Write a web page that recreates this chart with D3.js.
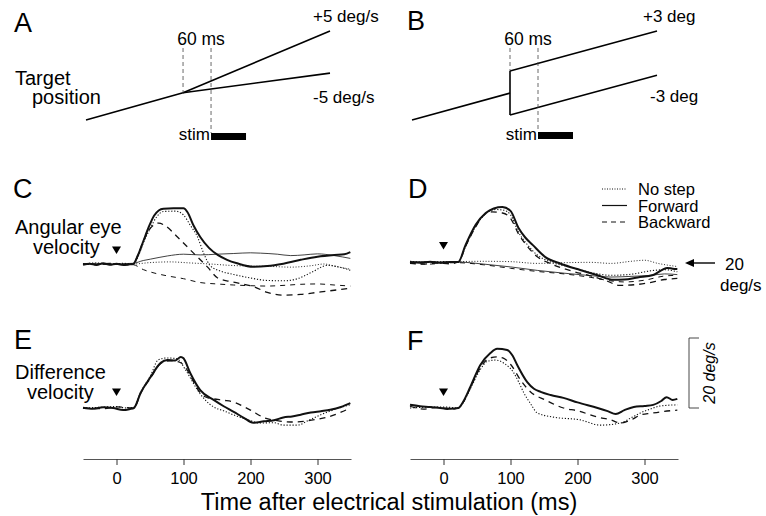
<!DOCTYPE html>
<html>
<head>
<meta charset="utf-8">
<script src="https://cdn.jsdelivr.net/npm/d3@7"></script>
<style>
  body { margin: 0; background: #fff; }
  svg { font-family: "Liberation Sans", Arial, Helvetica, sans-serif; }
</style>
</head>
<body>
<div id="chart"></div>
<script>
// ---- schematic target positions (A, B): [time ms, position deg] ----
var aBase = [[-268, 0], [-60, 3.9]];
var aPlus = [[-60, 3.9], [255, 12.7]];
var aMinus = [[-60, 3.9], [255, 6.7]];
var bBase = [[-270, 0], [-60, 3.85]];
var bStep = [[-60, 7.0], [-60, 0.7]];
var bPlus = [[-60, 7.0], [255, 12.7]];
var bMinus = [[-60, 0.7], [255, 6.4]];
var stepTime = -60;
var stimWindow = [0, 75];

// ---- C: angular eye velocity, velocity step (deg/s) ----
var cForwardStim = [[-50,19.8],[-40,20.1],[-30,19.7],[-20,20.2],[-10,19.8],[0,20.1],[10,19.7],[20,19.9],[25,20],[32,22.5],[40,26.5],[48,30.5],[56,33.8],[63,35.3],[70,35.8],[85,35.9],[100,35.9],[106,34.8],[115,31],[125,27.7],[138,24.6],[151,22.6],[165,21.2],[180,20.2],[204,19.2],[225,19.4],[249,20.1],[275,21.2],[300,22.1],[325,22.6],[340,22.8],[349,23.4]];
var cNoStepStim = [[-50,20],[-30,20.3],[-10,19.9],[10,20.2],[25,20],[32,22],[40,26],[50,30],[60,33.5],[70,35],[88,35.1],[100,34],[110,31.1],[121,27.7],[130,23.1],[140,19.5],[155,18],[175,17],[200,16],[225,15.3],[250,15.2],[270,15.8],[290,17.5],[315,19.6],[335,19],[349,18.2]];
var cBackwardStim = [[-50,20],[-30,19.8],[-10,20.2],[10,19.8],[25,20],[32,22.5],[40,26.5],[51,30.3],[63,31.7],[73,30.9],[91,27.7],[115,23.1],[136,19.1],[151,16],[170,15],[185,14.4],[205,13.5],[225,11.9],[249,11.1],[275,11.3],[300,11.9],[325,12.5],[349,13.1]];
var cForwardCtrl = [[-50,19.9],[-30,20.2],[-10,19.8],[10,20.1],[25,20.2],[40,21],[51,21.4],[76,22.3],[100,22.8],[125,22.6],[150,22.8],[175,23],[200,23.2],[215,23.1],[240,22.8],[260,22.4],[280,22.6],[300,22.9],[325,22.4],[349,21.6]];
var cNoStepCtrl = [[-50,20],[-20,19.9],[0,20.1],[25,20],[50,20.4],[80,20.6],[110,20.3],[140,20],[170,19.6],[200,19.4],[230,19.3],[260,19.1],[290,19.5],[310,20],[325,19.4],[349,18.5]];
var cBackwardCtrl = [[-50,20.1],[-20,19.9],[0,20],[25,19.8],[40,18.4],[51,17.7],[76,16.6],[100,15.8],[125,14.7],[150,14.3],[175,14],[200,13.8],[225,13.7],[250,13.9],[275,14.2],[300,14.3],[325,14],[349,13.7]];

// ---- D: angular eye velocity, position step (deg/s) ----
var dForwardStim = [[-50,20],[-35,19.8],[-20,20.1],[-5,19.8],[10,20],[22,20],[33,24.9],[48,30.6],[63,34],[75,35.3],[88,35.7],[100,34.6],[112,29.7],[122,27],[133,24.9],[152,21.4],[175,19.5],[204,17.7],[230,16.2],[254,14.9],[270,15],[290,15.6],[313,16.3],[334,18.3],[342,18.1],[349,18]];
var dNoStepStim = [[-50,20.2],[-25,19.9],[0,20.1],[22,20],[33,24.5],[48,30.2],[63,33.8],[78,35],[90,34.8],[100,33.5],[112,28.5],[125,25],[140,22],[160,20],[190,18.5],[220,17],[250,16.2],[280,16.5],[310,17.5],[330,17.8],[349,17.2]];
var dBackwardStim = [[-50,19.6],[-30,19.4],[-10,19.7],[10,19.5],[22,20],[33,24.5],[48,30],[60,33.4],[72,34.3],[88,34],[100,32.5],[112,28],[125,24.5],[140,21.5],[160,19.5],[190,17.5],[220,16],[245,14.5],[262,13.3],[285,13.5],[305,14],[330,15],[349,15.3]];
var dForwardCtrl = [[-50,20],[-20,20.1],[0,19.9],[20,20],[60,19.4],[100,18.6],[140,17.6],[180,16.8],[220,16.1],[250,15.7],[280,15.9],[310,16.2],[330,16.6],[349,16.4]];
var dNoStepCtrl = [[-50,20.1],[0,19.9],[20,20.1],[60,20.2],[100,20.1],[140,19.6],[180,19.8],[220,19.9],[250,19.6],[280,20.2],[300,20.5],[320,19.6],[349,18.7]];
var dBackwardCtrl = [[-50,19.6],[-20,19.4],[0,19.7],[20,19.8],[60,19.2],[100,18.2],[140,17.3],[180,16.6],[220,15.6],[250,14.6],[270,14.3],[300,14.8],[330,16],[349,16.2]];

// ---- E, F: difference velocity (deg/s) ----
var eForward = [[-50,0.1],[-35,-0.2],[-20,0.2],[-5,0],[10,-0.6],[20,-0.3],[26,0],[36,4.3],[51,8.9],[66,12.9],[76,13.7],[88,13.6],[96,14.6],[100,14.2],[110,10],[125,5.1],[145,2.3],[160,0.5],[175,-1.1],[190,-2.8],[204,-4.2],[220,-3.8],[235,-3.5],[249,-2.7],[262,-2.4],[275,-1.9],[290,-1.3],[305,-0.9],[319,-0.5],[335,0.3],[349,1.4]];
var eNoStep = [[-50,0],[-25,0.2],[0,0.4],[15,0],[26,0.2],[36,4.5],[51,9.3],[62,13.7],[75,14.3],[90,14.1],[103,10.9],[112,8],[121,5.1],[133,2.2],[145,0.3],[160,-0.8],[175,-2],[195,-3.3],[215,-4.3],[235,-4.2],[249,-4.9],[270,-4.9],[287,-3.5],[304,-2],[320,-0.8],[335,0.2],[349,0.9]];
var eBackward = [[-50,0],[-20,-0.2],[0,0.3],[26,0],[36,4.2],[51,8.6],[66,12.7],[80,13.5],[95,13],[105,11],[115,7.5],[125,4.3],[135,3],[145,2.6],[160,2.2],[175,1.7],[190,0.4],[200,-0.6],[222,-2.9],[240,-3.6],[260,-4],[280,-3.8],[300,-3.2],[315,-2.6],[335,-1.2],[349,0]];
var fForward = [[-50,0.9],[-35,0.5],[-20,0.3],[-5,0],[10,-0.2],[22,0],[30,2],[40,6],[55,12.3],[70,15.7],[80,16.9],[95,16.6],[103,15],[110,12.3],[125,7.4],[135,5.5],[145,4.6],[160,3.7],[179,2.9],[200,1.6],[230,0],[245,-0.9],[257,-1.7],[270,-0.6],[284,0.3],[300,0.6],[313,0.9],[325,2],[333,3.1],[342,2.3],[349,2.6]];
var fNoStep = [[-50,0],[-30,0.2],[0,0.3],[22,0],[30,1.8],[40,5.5],[55,11],[65,13.3],[78,13.7],[90,12.8],[105,10],[112,7.5],[120,4.3],[130,1.2],[140,-1.4],[164,-2.6],[204,-3.4],[234,-4.9],[264,-4.3],[280,-2.8],[294,-1.4],[310,-0.2],[324,0.6],[349,0.9]];
var fBackward = [[-50,0.5],[-30,-0.3],[-10,0.2],[10,-0.4],[22,0],[30,1.8],[40,5.7],[55,11.5],[68,14.2],[80,14.6],[90,14.2],[100,12.5],[115,8],[130,4.6],[152,2.3],[179,0],[200,-0.8],[230,-2.6],[250,-3.4],[264,-4.3],[280,-3.4],[294,-2],[310,-1.5],[324,-1.1],[349,-0.6]];

var tickValues = [0, 100, 200, 300];
var legendNames = ["No step", "Forward", "Backward"];
var scaleBarValue = 20;

// ---- layout ----
var width = 766, height = 516;
var svg = d3.select("#chart").append("svg")
  .attr("width", width).attr("height", height);

var styles = {
  stimForward: { w: 2, dash: null },
  stimNoStep: { w: 1.1, dash: "1.2,1.8" },
  stimBackward: { w: 1.3, dash: "6,5" },
  ctrlForward: { w: 0.8, dash: null },
  ctrlNoStep: { w: 0.9, dash: "1,1.8" },
  ctrlBackward: { w: 1, dash: "5,5" }
};

var xL = d3.scaleLinear().domain([-50, 350]).range([83, 351]);
var xR = d3.scaleLinear().domain([-50, 350]).range([410, 678]);
var yC = d3.scaleLinear().domain([20, 40]).range([264, 194]);
var yD = d3.scaleLinear().domain([20, 40]).range([262, 192]);
var yE = d3.scaleLinear().domain([0, 20]).range([408, 338]);
var yF = d3.scaleLinear().domain([0, 20]).range([408, 338]);

var xA = d3.scaleLinear().domain([-268, 255]).range([86, 330]);
var xB = d3.scaleLinear().domain([-270, 255]).range([412, 657]);
var posY = d3.scaleLinear().domain([0, 14]).range([120, 22]);

function trace(data, x, y, st) {
  var line = d3.line().x(function(d) { return x(d[0]); }).y(function(d) { return y(d[1]); })
    .curve(d3.curveMonotoneX);
  svg.append("path").datum(data).attr("d", line)
    .attr("fill", "none").attr("stroke", "#111")
    .attr("stroke-width", st.w)
    .attr("stroke-dasharray", st.dash)
    .attr("stroke-linejoin", "round");
}

function seg(data, x, y) {
  var line = d3.line().x(function(d) { return x(d[0]); }).y(function(d) { return y(d[1]); });
  svg.append("path").datum(data).attr("d", line)
    .attr("fill", "none").attr("stroke", "#000").attr("stroke-width", 1.6);
}

function label(txt, x, y, size, anchor) {
  return svg.append("text").attr("x", x).attr("y", y)
    .attr("font-size", size).attr("text-anchor", anchor || "start")
    .attr("fill", "#000").text(txt);
}

// panel letters
label("A", 14, 32, 27); label("B", 407, 30, 27);
label("C", 13, 198, 27); label("D", 408, 198, 27);
label("E", 14, 349, 27); label("F", 407, 350, 27);

// ---- A ----
seg(aBase, xA, posY); seg(aPlus, xA, posY); seg(aMinus, xA, posY);
// ---- B ----
seg(bBase, xB, posY); seg(bStep, xB, posY); seg(bPlus, xB, posY); seg(bMinus, xB, posY);

function schematicMarks(x, stepTop, barTop) {
  svg.append("line").attr("x1", x(stepTime)).attr("x2", x(stepTime))
    .attr("y1", 48).attr("y2", stepTop)
    .attr("stroke", "#444").attr("stroke-width", 0.8).attr("stroke-dasharray", "4,3");
  svg.append("line").attr("x1", x(stimWindow[0])).attr("x2", x(stimWindow[0]))
    .attr("y1", 48).attr("y2", barTop)
    .attr("stroke", "#444").attr("stroke-width", 0.8).attr("stroke-dasharray", "4,3");
  svg.append("rect").attr("x", x(stimWindow[0])).attr("y", barTop)
    .attr("width", x(stimWindow[1]) - x(stimWindow[0])).attr("height", 7).attr("fill", "#000");
  label("stim", x(stimWindow[0]) - 1, 140, 17, "end");
  label("60 ms", (x(stepTime) + x(0)) / 2 + 4, 45, 17.5, "middle");
}
schematicMarks(xA, posY(aBase[1][1]), 133);
schematicMarks(xB, posY(bStep[0][1]), 132);

label("+5 deg/s", 313, 22, 17); label("-5 deg/s", 313, 103, 17);
label("+3 deg", 643, 22, 17); label("-3 deg", 650, 102, 17);
label("Target", 15, 85, 20); label("position", 32, 104, 20);

// ---- C / D ----
trace(cNoStepCtrl, xL, yC, styles.ctrlNoStep);
trace(cForwardCtrl, xL, yC, styles.ctrlForward);
trace(cBackwardCtrl, xL, yC, styles.ctrlBackward);
trace(cNoStepStim, xL, yC, styles.stimNoStep);
trace(cBackwardStim, xL, yC, styles.stimBackward);
trace(cForwardStim, xL, yC, styles.stimForward);

trace(dNoStepCtrl, xR, yD, styles.ctrlNoStep);
trace(dForwardCtrl, xR, yD, styles.ctrlForward);
trace(dBackwardCtrl, xR, yD, styles.ctrlBackward);
trace(dNoStepStim, xR, yD, styles.stimNoStep);
trace(dBackwardStim, xR, yD, styles.stimBackward);
trace(dForwardStim, xR, yD, styles.stimForward);

label("Angular eye", 15, 234, 20); label("velocity", 33, 254, 20);

// ---- E / F ----
trace(eNoStep, xL, yE, styles.stimNoStep);
trace(eBackward, xL, yE, styles.stimBackward);
trace(eForward, xL, yE, styles.stimForward);
trace(fNoStep, xR, yF, styles.stimNoStep);
trace(fBackward, xR, yF, styles.stimBackward);
trace(fForward, xR, yF, styles.stimForward);

label("Difference", 15, 379, 20); label("velocity", 27, 399, 20);

// stimulation onset markers
function marker(x, y) {
  svg.append("path").attr("d", "M-4.5,-3.5L4.5,-3.5L0,4Z")
    .attr("transform", "translate(" + x + "," + y + ")").attr("fill", "#000");
}
marker(xL(0), yC(24)); marker(xR(0), yD(24.7));
marker(xL(0), yE(4.6)); marker(xR(0), yF(4.6));

// legend
legendNames.forEach(function(name, i) {
  var yy = 189 + i * 16.5;
  svg.append("line").attr("x1", 602).attr("x2", 627).attr("y1", yy).attr("y2", yy)
    .attr("stroke", "#111").attr("stroke-width", i === 1 ? 1.2 : 1)
    .attr("stroke-dasharray", i === 0 ? "1,1.5" : (i === 2 ? "5,4" : null));
  label(name, 638, yy + 6, 16.5);
});

// 20 deg/s reference arrow in D
svg.append("line").attr("x1", 715).attr("x2", 690).attr("y1", yD(20) + 1).attr("y2", yD(20) + 1)
  .attr("stroke", "#000").attr("stroke-width", 1.4);
svg.append("path").attr("d", "M0,0L9,-4L9,4Z")
  .attr("transform", "translate(685," + (yD(20) + 1) + ")").attr("fill", "#000");
label("20", 725, 270, 17); label("deg/s", 720, 291, 17);

// scale bar in F
var sbX = 689;
svg.append("path")
  .attr("d", "M" + (sbX + 10) + "," + yF(scaleBarValue) + "H" + sbX + "V" + yF(0) + "H" + (sbX + 10))
  .attr("fill", "none").attr("stroke", "#333").attr("stroke-width", 0.9);
svg.append("text").attr("transform", "translate(715," + yF(scaleBarValue / 2) + ") rotate(-90)")
  .attr("text-anchor", "middle").attr("font-size", 16).attr("font-style", "italic")
  .text("20 deg/s");

// ---- x axes ----
[xL, xR].forEach(function(x) {
  var g = svg.append("g").attr("transform", "translate(0,459)")
    .call(d3.axisBottom(x).tickValues(tickValues).tickSize(6).tickSizeOuter(0).tickPadding(7));
  g.select(".domain").attr("stroke", "#555").attr("stroke-width", 1);
  g.selectAll(".tick line").attr("stroke", "#333");
  g.selectAll("text").attr("font-size", 16.5).attr("fill", "#000")
    .attr("font-family", "Liberation Sans, Arial, sans-serif");
});

label("Time after electrical stimulation (ms)", 389, 510, 23.5, "middle");
</script>
</body>
</html>
